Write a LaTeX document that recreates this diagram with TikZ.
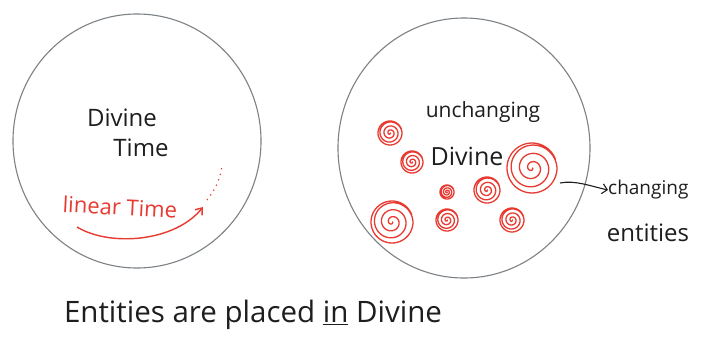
\documentclass[tikz,border=0pt]{standalone}
\usepackage{fontspec}
\setmainfont{Open Sans}
\usetikzlibrary{shapes.geometric,arrows.meta}
\definecolor{pencil}{RGB}{125,130,135}
\definecolor{redink}{RGB}{232,58,48}
\definecolor{ink}{RGB}{30,30,30}
\newcommand{\redspiral}[3]{%
  \draw[spiralline, shift={(#1,#2)}] plot[domain=0:1420, samples=200, smooth]
    ({#3*min(\x/1080,1)*cos(\x)}, {#3*min(\x/1080,1)*sin(\x)});}
\begin{document}
\begin{tikzpicture}[x=1pt,y=-1pt,
  bigcircle/.style={draw=pencil, line width=1.1pt, ellipse, inner sep=0pt},
  spiralline/.style={draw=redink, line width=1.3pt},
  blacktext/.style={text=ink, inner sep=0pt, font=\fontsize{24}{28}\selectfont},
  redtext/.style={text=redink, inner sep=0pt, font=\fontsize{22}{26}\selectfont},
  redarrow/.style={draw=redink, line width=1.4pt, -{Straight Barb[length=6pt,width=9pt]}},
  dotline/.style={draw=redink, line width=1.2pt, dash pattern=on 1.2pt off 4.5pt},
  pointer/.style={draw=ink, line width=1.1pt, -{Straight Barb[length=5pt,width=10pt]}}]
\useasboundingbox (0,0) rectangle (704,346);
\fill[white] (0,0) rectangle (704,346);
% circles
\node[bigcircle, minimum width=248pt, minimum height=254pt] (leftc) at (137,141) {};
\node[bigcircle, minimum width=252pt, minimum height=260pt] (rightc) at (464,148) {};
% left circle texts
\node[blacktext] (ldivine) at (122,118) {Divine};
\node[blacktext] (ltime) at (141,148) {Time};
\node[redtext, rotate=-3] (linear) at (120,207) {linear Time};
\coordinate (astart) at (77,227);
\coordinate (aend) at (203,207);
\coordinate (dend) at (222,165);
\draw[redarrow] (astart) .. controls (110,247) and (175,242) .. (aend);
\draw[dotline] (207,200) .. controls (215,190) and (221,178) .. (dend);
% right circle texts
\node[blacktext, font=\fontsize{21}{25}\selectfont] (unch) at (483,112) {unchanging};
\node[blacktext, font=\fontsize{25}{29}\selectfont] (rdivine) at (467,156) {Divine};
% spirals
\redspiral{390}{133}{12}
\redspiral{412}{162}{11}
\redspiral{532}{168}{25}
\redspiral{447}{192}{7}
\redspiral{487}{190}{13}
\redspiral{392}{222}{21}
\redspiral{447}{220}{11}
\redspiral{512}{220}{12}
\coordinate (s3) at (560,183);
% changing entities
\node[blacktext, anchor=west, font=\fontsize{19}{23}\selectfont] (chg) at (608,190) {changing};
\node[blacktext] (ent) at (648,233) {entities};
\draw[pointer] (s3) .. controls (575,180) and (590,186) .. (chg.west);
% bottom caption
\node[blacktext, font=\fontsize{29.5}{33}\selectfont] (caption) at (253,315) {Entities are placed \underline{in} Divine};
\end{tikzpicture}
\end{document}
